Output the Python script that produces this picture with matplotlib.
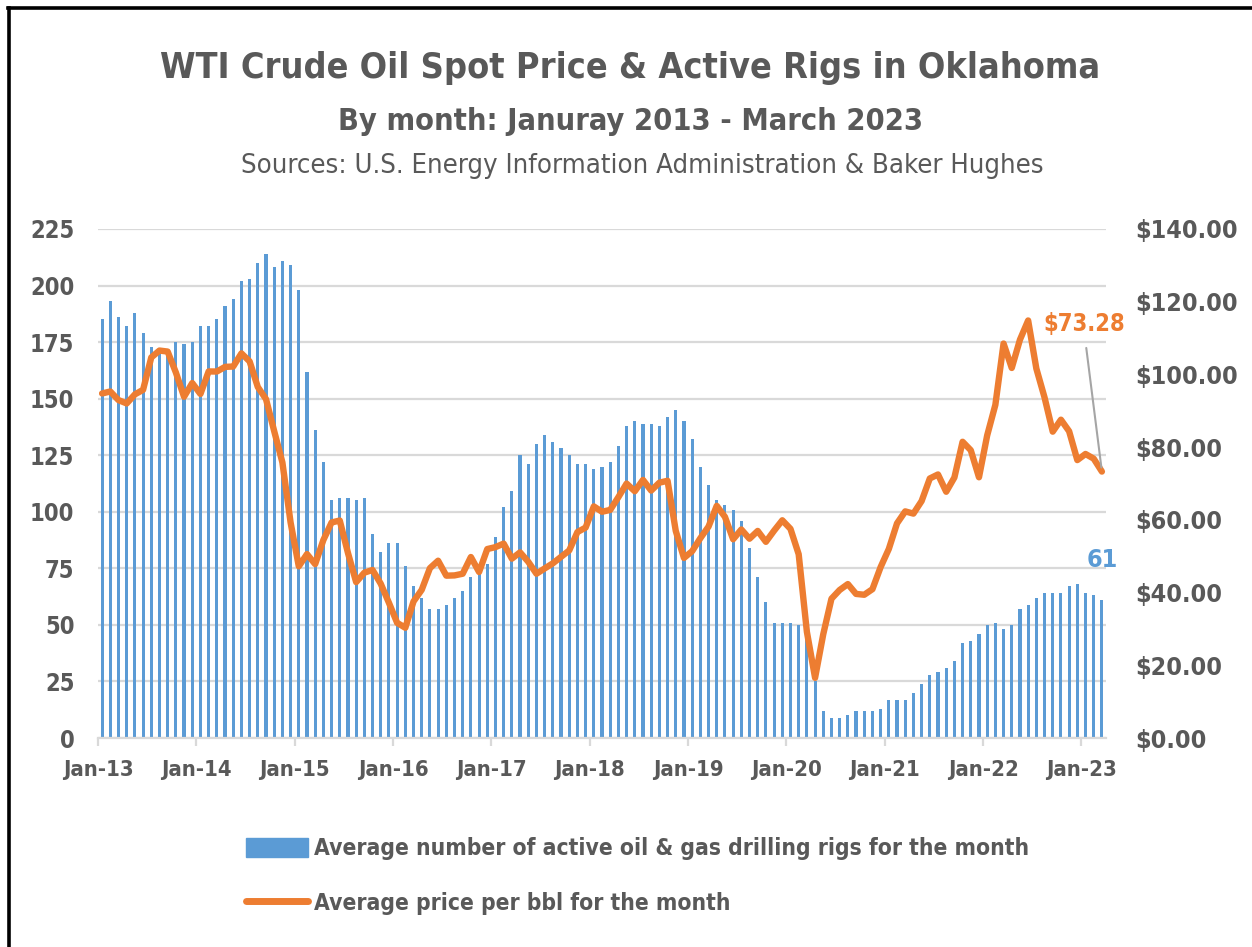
import matplotlib
matplotlib.use("Agg")
import matplotlib.pyplot as plt
from matplotlib.patches import Patch
from matplotlib.lines import Line2D
import numpy as np

# ---- data ----
year_labels = ["Jan-13", "Jan-14", "Jan-15", "Jan-16", "Jan-17", "Jan-18",
               "Jan-19", "Jan-20", "Jan-21", "Jan-22", "Jan-23"]

rigs_2013 = [185, 193, 186, 182, 188, 179, 173, 172, 171, 175, 174, 175]
rigs_2014 = [182, 182, 185, 191, 194, 202, 203, 210, 214, 208, 211, 209]
rigs_2015 = [198, 162, 136, 122, 105, 106, 106, 105, 106, 90, 82, 86]
rigs_2016 = [86, 76, 67, 62, 57, 57, 59, 62, 65, 71, 73, 77]
rigs_2017 = [89, 102, 109, 125, 121, 130, 134, 131, 128, 125, 121, 121]
rigs_2018 = [119, 120, 122, 129, 138, 140, 139, 139, 138, 142, 145, 140]
rigs_2019 = [132, 120, 112, 105, 103, 101, 96, 84, 71, 60, 51, 51]
rigs_2020 = [51, 50, 46, 25, 12, 9, 9, 10, 12, 12, 12, 13]
rigs_2021 = [17, 17, 17, 20, 24, 28, 29, 31, 34, 42, 43, 46]
rigs_2022 = [50, 51, 48, 50, 57, 59, 62, 64, 64, 64, 67, 68]
rigs_2023 = [64, 63, 61]

price_2013 = [94.76, 95.31, 92.94, 92.02, 94.51, 95.77, 104.67, 106.57, 106.29, 100.54, 93.86, 97.63]
price_2014 = [94.62, 100.82, 100.80, 102.07, 102.18, 105.79, 103.59, 96.54, 93.21, 84.40, 75.79, 59.29]
price_2015 = [47.22, 50.58, 47.82, 54.45, 59.27, 59.82, 50.90, 42.87, 45.48, 46.22, 42.44, 37.19]
price_2016 = [31.68, 30.32, 37.55, 40.75, 46.71, 48.76, 44.65, 44.72, 45.18, 49.78, 45.66, 51.97]
price_2017 = [52.50, 53.47, 49.33, 51.06, 48.48, 45.18, 46.63, 48.04, 49.82, 51.58, 56.64, 57.88]
price_2018 = [63.70, 62.23, 62.73, 66.25, 69.98, 67.87, 70.98, 68.06, 70.23, 70.75, 56.96, 49.52]
price_2019 = [51.38, 54.95, 58.15, 63.86, 60.83, 54.66, 57.35, 54.81, 56.95, 53.96, 57.03, 59.88]
price_2020 = [57.52, 50.54, 29.21, 16.55, 28.56, 38.31, 40.71, 42.34, 39.63, 39.40, 40.94, 47.02]
price_2021 = [52.00, 59.04, 62.33, 61.72, 65.17, 71.38, 72.49, 67.73, 71.65, 81.48, 79.15, 71.71]
price_2022 = [83.22, 91.64, 108.50, 101.78, 109.55, 114.84, 101.62, 93.67, 84.26, 87.55, 84.37, 76.44]
price_2023 = [78.12, 76.83, 73.28]

rigs = (rigs_2013 + rigs_2014 + rigs_2015 + rigs_2016 + rigs_2017 + rigs_2018 +
        rigs_2019 + rigs_2020 + rigs_2021 + rigs_2022 + rigs_2023)
price = (price_2013 + price_2014 + price_2015 + price_2016 + price_2017 + price_2018 +
         price_2019 + price_2020 + price_2021 + price_2022 + price_2023)

bar_label = "Average number of active oil & gas drilling rigs for the month"
line_label = "Average price per bbl for the month"

# ---- style ----
FONT = ["DejaVu Sans"]
plt.rcParams["font.family"] = FONT
plt.rcParams["font.stretch"] = "condensed"
TXT = "#595959"
BLUE = "#5B9BD5"
ORANGE = "#ED7D31"
GRID = "#D9D9D9"

fig = plt.figure(figsize=(12.52, 9.47), dpi=100)
ax = fig.add_axes([98 / 1252, 1 - 738 / 947, (1106 - 98) / 1252, (738 - 229) / 947])
ax2 = ax.twinx()

x = np.arange(len(rigs))
ax.bar(x, rigs, width=0.38, color=BLUE, zorder=2)
ax2.plot(x, price, color=ORANGE, lw=4.6, solid_joinstyle="round", solid_capstyle="round", zorder=3)

ax.set_xlim(-0.5, len(rigs) - 0.5)
ax.set_ylim(0, 225)
ax2.set_ylim(0, 140)
ax.set_yticks(np.arange(0, 226, 25))
ax2.set_yticks(np.arange(0, 141, 20))
ax2.set_yticklabels([f"${v:.2f}" for v in np.arange(0, 141, 20)])
ax.set_xticks(np.arange(-0.5, len(rigs), 12))
ax.set_xticklabels(year_labels)

ax.grid(axis="y", color=GRID, lw=1.6, zorder=0)
ax.set_axisbelow(True)
for a in (ax, ax2):
    for s in ("top", "right", "left", "bottom"):
        a.spines[s].set_visible(False)
ax.spines["bottom"].set_visible(True)
ax.spines["bottom"].set_color(GRID)
ax.spines["bottom"].set_linewidth(1.6)

ax.tick_params(axis="y", length=0, pad=17, labelsize=17, labelcolor=TXT)
ax2.tick_params(axis="y", length=0, pad=21, labelsize=18, labelcolor=TXT)
ax.tick_params(axis="x", length=6, width=1.6, color=GRID, pad=10, labelsize=15.8, labelcolor=TXT)
for lab in ax.get_yticklabels() + ax2.get_yticklabels() + ax.get_xticklabels():
    lab.set_fontweight("bold")
    lab.set_fontstretch("condensed")

# annotations
ax2.annotate(f"${price[-1]:.2f}", xy=(x[-1], price[-1]), xytext=(119.9, 114),
             textcoords="data", ha="center", va="center", color=ORANGE,
             fontsize=17, fontweight="bold", fontstretch="condensed",
             arrowprops=dict(arrowstyle="-", color="#A5A5A5", lw=1.5,
                             relpos=(0.5, 0.0), shrinkA=7, shrinkB=3))
ax.annotate(f"{rigs[-1]}", xy=(x[-1], rigs[-1]), xytext=(0, 20),
            textcoords="offset points", ha="center", va="bottom", color=BLUE,
            fontsize=18, fontweight="bold", fontstretch="condensed")

# titles
fig.text(630 / 1252, 1 - 68 / 947, "WTI Crude Oil Spot Price & Active Rigs in Oklahoma",
         ha="center", va="center", fontsize=25.8, fontweight="bold", color=TXT,
         fontstretch="condensed")
fig.text(631 / 1252, 1 - 122 / 947, "By month: Januray 2013 - March 2023",
         ha="center", va="center", fontsize=22.1, fontweight="bold", color=TXT,
         fontstretch="condensed")
fig.text(642 / 1252, 1 - 166 / 947, "Sources: U.S. Energy Information Administration & Baker Hughes",
         ha="center", va="center", fontsize=19.7, color=TXT, fontstretch="condensed")

# legend
handles = [Patch(facecolor=BLUE, edgecolor=BLUE),
           Line2D([0], [0], color=ORANGE, lw=5, solid_capstyle="round")]
leg = fig.legend(handles, [bar_label, line_label], loc="center left",
                 bbox_to_anchor=(246 / 1252, 1 - 876 / 947), frameon=False,
                 handlelength=2.7, handleheight=0.9, handletextpad=0.3,
                 labelspacing=1.4, borderpad=0, borderaxespad=0,
                 prop=dict(family=FONT, size=16.4, weight="bold", stretch="condensed"))
for t in leg.get_texts():
    t.set_color(TXT)

# frame lines (top and left)
fig.add_artist(Line2D([8 / 1252, 1], [1 - 8.5 / 947, 1 - 8.5 / 947], color="black", lw=2.6,
                      transform=fig.transFigure))
fig.add_artist(Line2D([8.5 / 1252, 8.5 / 1252], [0, 1 - 8 / 947], color="black", lw=2.6,
                      transform=fig.transFigure))

fig.savefig("out.png", dpi=100)
